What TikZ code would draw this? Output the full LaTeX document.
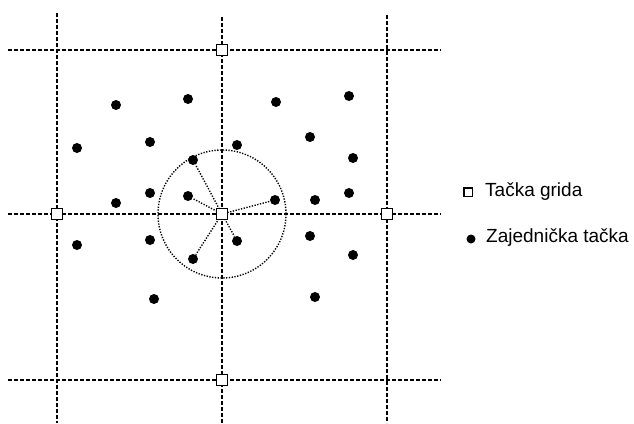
\documentclass[tikz,border=0pt]{standalone}
\usepackage{fontspec}
\setmainfont{Liberation Sans}
\begin{document}
\begin{tikzpicture}[x=1pt,y=-1pt,
  gridline/.style={line width=1.5pt,dash pattern=on 4pt off 2pt},
  dotline/.style={line width=1.4pt,dash pattern=on 1.3pt off 1.5pt},
  gpt/.style={draw,fill=white,line width=1.8pt,minimum size=11pt,inner sep=0pt,rectangle},
  cpt/.style={circle,fill=black,minimum size=10pt,inner sep=0pt},
  lbl/.style={anchor=west,font=\fontsize{19}{22}\selectfont,inner sep=0pt}]
\useasboundingbox (0,0) rectangle (634,423);
% grid lines
\coordinate (v1t) at (57,13); \coordinate (v1b) at (57,423);
\coordinate (v2t) at (222,17); \coordinate (v2b) at (222,423);
\coordinate (v3t) at (387,15); \coordinate (v3b) at (387,423);
\coordinate (h1l) at (8,50); \coordinate (h1r) at (441,50);
\coordinate (h2l) at (8,214); \coordinate (h2r) at (441,214);
\coordinate (h3l) at (8,380); \coordinate (h3r) at (441,380);
\draw[gridline] (v1t) -- (v1b);
\draw[gridline] (v2t) -- (v2b);
\draw[gridline] (v3t) -- (v3b);
\draw[gridline] (h1l) -- (h1r);
\draw[gridline] (h2l) -- (h2r);
\draw[gridline] (h3l) -- (h3r);
% circle
\coordinate (c) at (222,214);
\draw[dotline] (c) circle (64);
% common points
\foreach \n/\x/\y in {a1/116/105,a2/188/99,a3/276/102,a4/349/96,
  b1/77/148,b2/150/142,b3/237/145,b4/310/137,b5/353/158,
  s1/193/160,b6/150/193,b7/116/203,s2/188/196,s3/275/200,b8/315/200,b9/349/193,
  c1/77/245,c2/150/240,s4/237/241,c3/310/236,c4/353/255,s5/193/259,
  d1/154/299,d2/315/297}
  \node[cpt] (\n) at (\x,\y) {};
% spokes
\foreach \n in {s1,s2,s3,s4,s5}
  \draw[dotline] (c) -- (\n);
% grid points
\node[gpt] (g0) at (c) {};
\node[gpt] (g1) at (222,50) {};
\node[gpt] (g2) at (57,214) {};
\node[gpt] (g3) at (387,214) {};
\node[gpt] (g4) at (222,380) {};
% legend
\node[gpt,minimum size=8.5pt,line width=1.5pt] (lg) at (468,192) {};
\node[lbl] (lgt) at (485,192) {Tačka grida};
\node[cpt,minimum size=9pt] (lc) at (471,239) {};
\node[lbl] (lct) at (486,238) {Zajednička tačka};
\end{tikzpicture}
\end{document}
